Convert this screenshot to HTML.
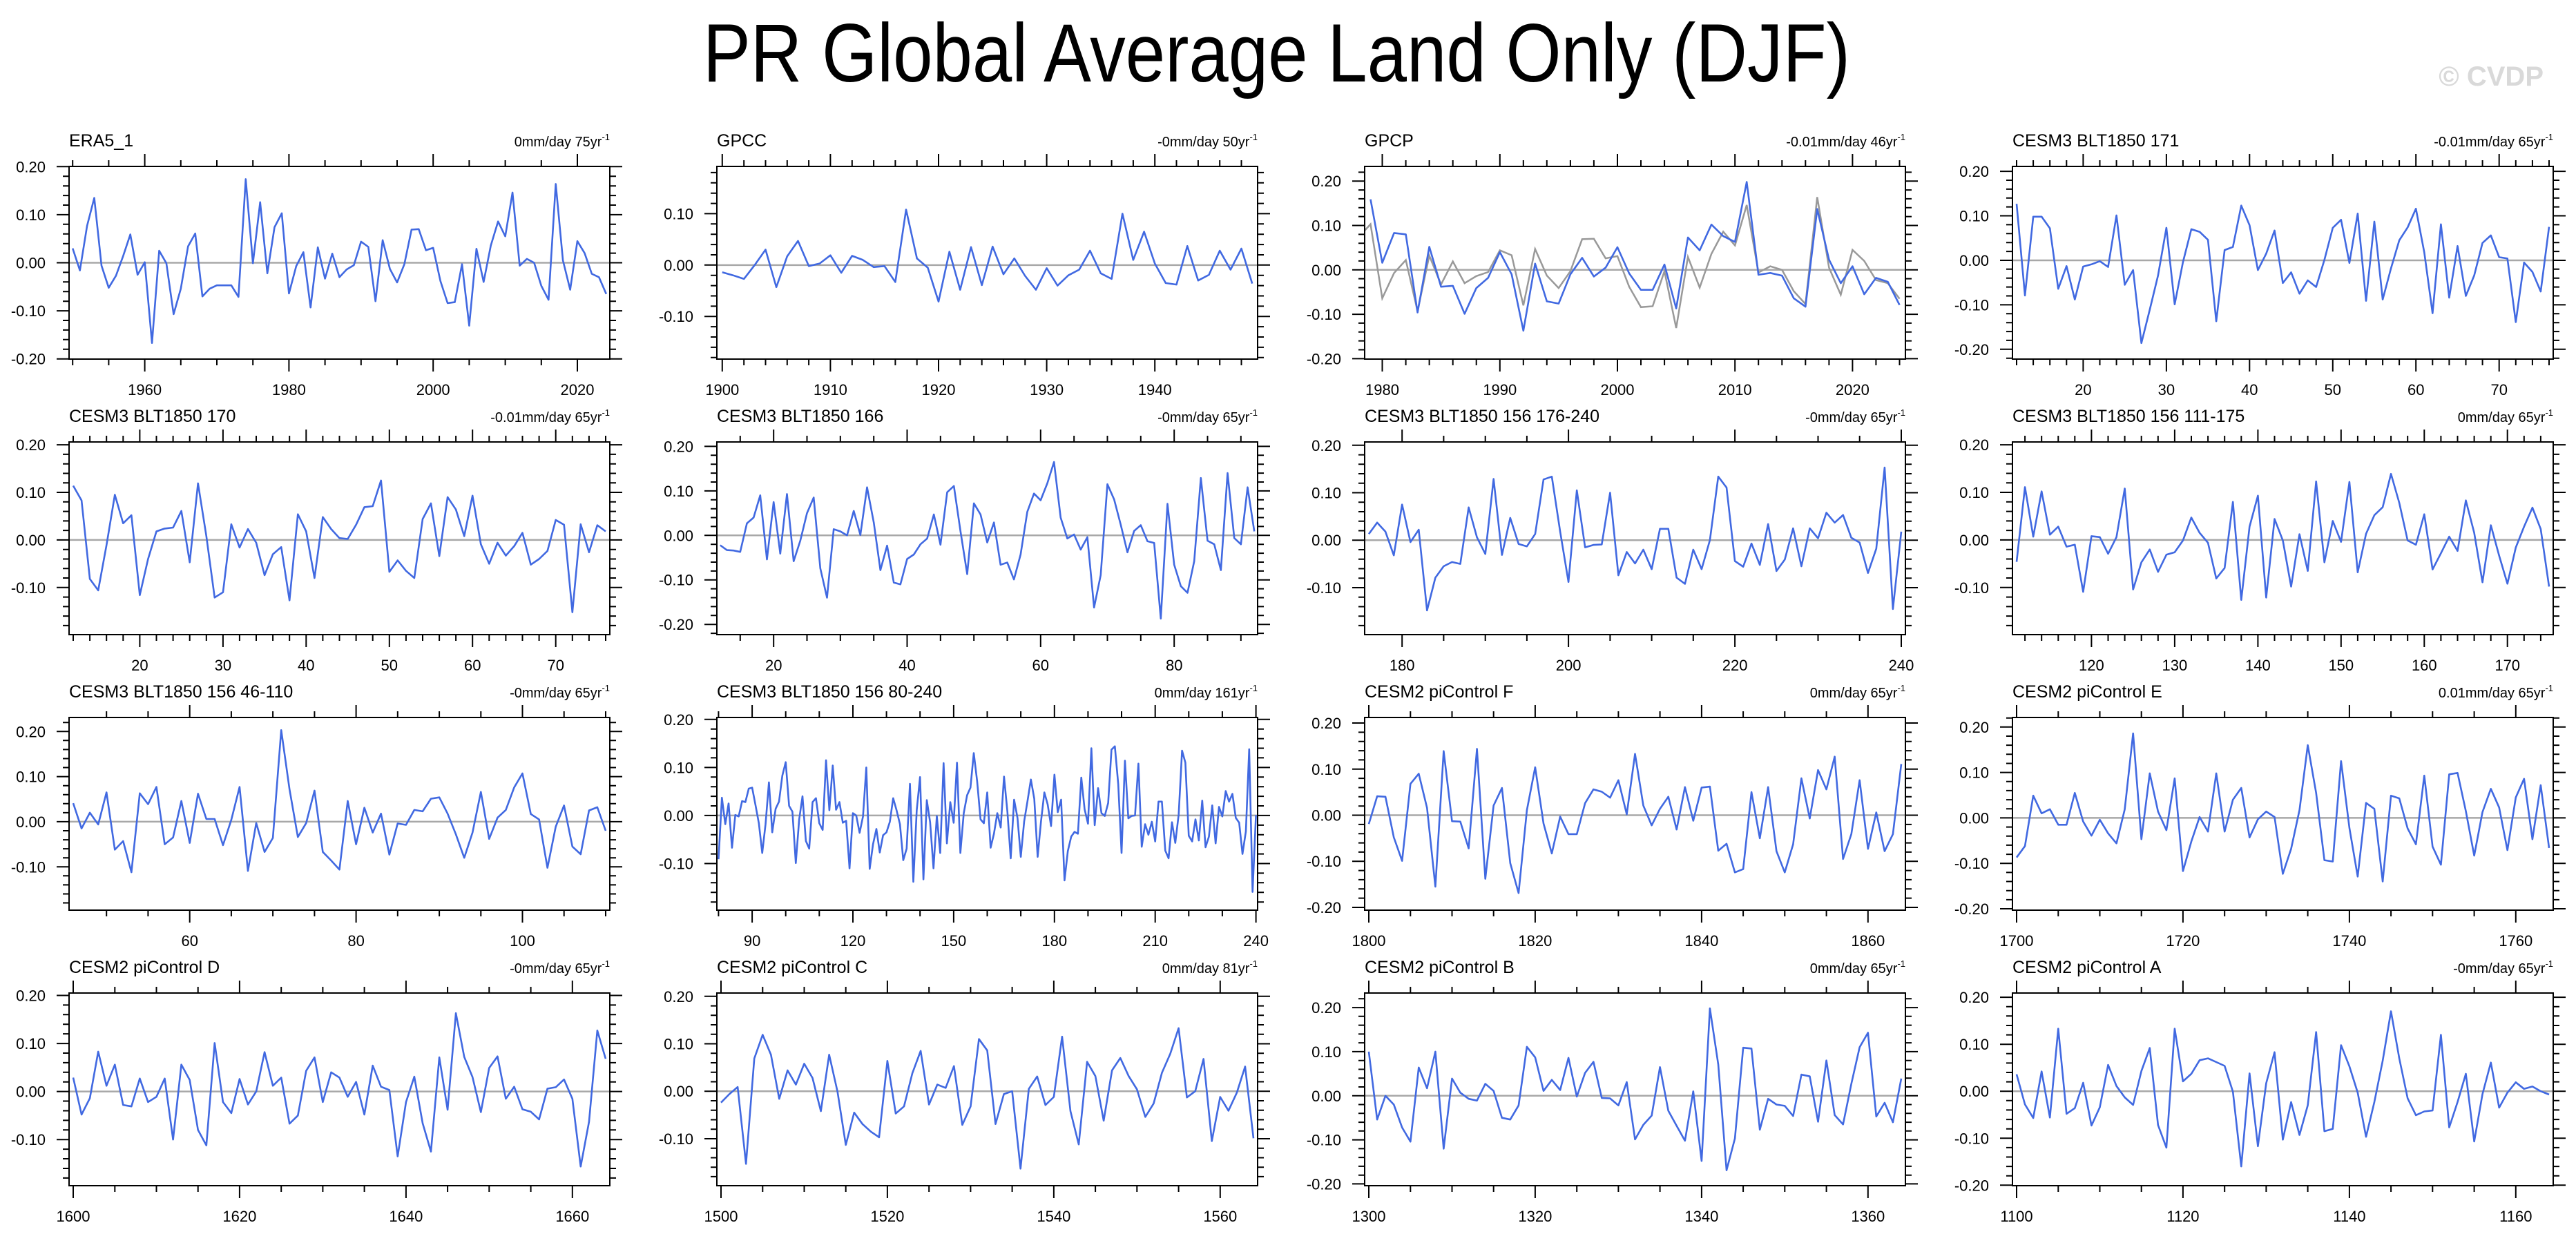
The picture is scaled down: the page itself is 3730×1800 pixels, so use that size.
<!DOCTYPE html>
<html>
<head>
<meta charset="utf-8">
<style>
html,body{margin:0;padding:0;background:#fff;}
svg{display:block;font-family:"Liberation Sans",Arial,sans-serif;}
</style>
</head>
<body>
<svg id="fig" width="3730" height="1800" viewBox="0 0 3730 1800" xmlns="http://www.w3.org/2000/svg">
  <rect x="0" y="0" width="3730" height="1800" fill="#fff"/>
  <text x="1018" y="118" font-size="120" textLength="1661" lengthAdjust="spacingAndGlyphs" fill="#000">PR Global Average Land Only (DJF)</text>
  <text x="3683" y="124" font-size="40" font-weight="bold" text-anchor="end" fill="#d9d9d9">© CVDP</text>
  <g id="panels"></g>
</svg>
<script>
// ---- data (one value per year, starting at the given first year) ----
const era5Start = 1950;
const era5Values = [0.030,-0.016,0.077,0.135,-0.006,-0.052,-0.027,0.014,0.059,-0.025,0.001,-0.167,0.025,-0.001,-0.107,-0.054,0.034,0.061,-0.070,-0.054,-0.047,-0.047,-0.047,-0.071,0.174,-0.001,0.126,-0.022,0.074,0.103,-0.064,-0.007,0.022,-0.093,0.032,-0.033,0.019,-0.030,-0.014,-0.005,0.044,0.033,-0.080,0.047,-0.013,-0.041,-0.003,0.069,0.070,0.026,0.031,-0.038,-0.084,-0.082,-0.003,-0.131,0.029,-0.040,0.036,0.086,0.055,0.146,-0.006,0.008,0.000,-0.048,-0.077,0.164,0.005,-0.056,0.045,0.020,-0.023,-0.030,-0.065];
const gpccStart = 1900;
const gpccValues = [-0.014,-0.020,-0.027,0.000,0.030,-0.043,0.017,0.047,-0.002,0.003,0.019,-0.015,0.018,0.010,-0.004,-0.002,-0.033,0.108,0.013,-0.005,-0.071,0.026,-0.048,0.035,-0.039,0.036,-0.018,0.013,-0.021,-0.048,-0.006,-0.040,-0.020,-0.009,0.028,-0.016,-0.027,0.100,0.010,0.065,0.003,-0.035,-0.038,0.037,-0.030,-0.019,0.028,-0.009,0.032,-0.036];
const gpcpStart = 1979;
const gpcpValues = [0.159,0.016,0.083,0.080,-0.096,0.052,-0.038,-0.036,-0.099,-0.041,-0.018,0.040,-0.010,-0.137,0.014,-0.071,-0.076,-0.010,0.027,-0.015,0.005,0.051,-0.008,-0.045,-0.045,0.012,-0.087,0.073,0.044,0.102,0.076,0.063,0.198,-0.011,-0.007,-0.013,-0.064,-0.083,0.137,0.023,-0.030,0.008,-0.055,-0.018,-0.027,-0.079];
const b171Start = 12;
const b171Values = [0.127,-0.079,0.098,0.098,0.072,-0.064,-0.013,-0.088,-0.014,-0.009,-0.002,-0.015,0.101,-0.055,-0.022,-0.186,-0.111,-0.034,0.073,-0.099,-0.004,0.070,0.064,0.046,-0.137,0.023,0.030,0.123,0.079,-0.022,0.015,0.067,-0.051,-0.027,-0.075,-0.045,-0.060,0.001,0.073,0.091,-0.006,0.105,-0.091,0.087,-0.088,-0.018,0.045,0.074,0.116,0.018,-0.119,0.081,-0.084,0.032,-0.080,-0.034,0.039,0.056,0.007,0.004,-0.139,-0.005,-0.026,-0.070,0.075];
const b170Start = 12;
const b170Values = [0.114,0.083,-0.082,-0.106,-0.011,0.095,0.035,0.052,-0.116,-0.040,0.018,0.024,0.026,0.061,-0.047,0.119,0.008,-0.121,-0.110,0.033,-0.016,0.023,-0.006,-0.074,-0.030,-0.015,-0.127,0.054,0.018,-0.080,0.048,0.023,0.004,0.002,0.032,0.069,0.071,0.125,-0.067,-0.043,-0.065,-0.080,0.044,0.077,-0.034,0.090,0.064,0.008,0.093,-0.009,-0.050,-0.006,-0.033,-0.013,0.015,-0.052,-0.040,-0.023,0.042,0.032,-0.152,0.033,-0.026,0.031,0.018];
const b166Start = 12;
const b166Values = [-0.022,-0.033,-0.034,-0.037,0.027,0.040,0.090,-0.054,0.075,-0.041,0.093,-0.058,-0.012,0.050,0.085,-0.074,-0.140,0.014,0.009,0.000,0.055,0.001,0.108,0.029,-0.078,-0.023,-0.106,-0.110,-0.053,-0.043,-0.020,-0.007,0.047,-0.021,0.097,0.111,0.009,-0.087,0.072,0.047,-0.016,0.029,-0.066,-0.061,-0.099,-0.043,0.053,0.094,0.079,0.117,0.165,0.040,-0.007,0.002,-0.032,-0.004,-0.162,-0.089,0.115,0.081,0.024,-0.038,0.010,0.023,-0.013,-0.017,-0.187,0.071,-0.066,-0.114,-0.129,-0.058,0.129,-0.012,-0.020,-0.078,0.140,-0.006,-0.020,0.108,0.009];
const b156aStart = 176;
const b156aValues = [0.013,0.037,0.018,-0.032,0.075,-0.004,0.022,-0.148,-0.079,-0.055,-0.046,-0.050,0.069,0.006,-0.029,0.129,-0.031,0.047,-0.008,-0.013,0.013,0.128,0.134,0.018,-0.088,0.105,-0.015,-0.010,-0.009,0.100,-0.074,-0.025,-0.049,-0.020,-0.061,0.024,0.024,-0.079,-0.092,-0.020,-0.061,0.000,0.134,0.111,-0.044,-0.056,-0.007,-0.052,0.034,-0.065,-0.041,0.025,-0.055,0.025,0.004,0.058,0.037,0.053,0.005,-0.005,-0.069,-0.018,0.153,-0.145,0.018];
const b156bStart = 111;
const b156bValues = [-0.046,0.111,0.007,0.102,0.011,0.028,-0.014,-0.010,-0.109,0.008,0.006,-0.029,0.006,0.108,-0.104,-0.047,-0.020,-0.067,-0.031,-0.026,-0.001,0.047,0.015,-0.006,-0.081,-0.059,0.080,-0.126,0.028,0.093,-0.121,0.044,-0.001,-0.098,0.012,-0.065,0.123,-0.047,0.040,-0.004,0.122,-0.068,0.013,0.052,0.069,0.139,0.078,-0.001,-0.010,0.054,-0.062,-0.028,0.007,-0.023,0.083,0.015,-0.089,0.031,-0.033,-0.092,-0.016,0.028,0.068,0.023,-0.098];
const b156cStart = 46;
const b156cValues = [0.041,-0.015,0.020,-0.006,0.065,-0.062,-0.043,-0.112,0.063,0.039,0.077,-0.050,-0.035,0.046,-0.047,0.062,0.006,0.006,-0.052,0.004,0.077,-0.109,-0.003,-0.067,-0.036,0.203,0.072,-0.034,-0.003,0.069,-0.067,-0.086,-0.106,0.046,-0.050,0.031,-0.024,0.018,-0.073,-0.004,-0.007,0.026,0.023,0.051,0.054,0.018,-0.028,-0.080,-0.024,0.066,-0.038,0.009,0.026,0.076,0.107,0.017,0.005,-0.102,-0.011,0.036,-0.055,-0.072,0.025,0.032,-0.020];
const b156dStart = 80;
const b156dValues = [-0.091,0.037,-0.018,0.025,-0.067,0.001,-0.002,0.030,0.028,0.056,0.058,0.022,-0.016,-0.078,-0.018,0.069,-0.035,0.014,0.029,0.083,0.111,0.020,0.008,-0.099,-0.008,0.040,-0.053,-0.069,0.028,0.036,-0.016,-0.030,0.115,0.011,0.104,0.012,0.028,-0.015,-0.011,-0.110,0.005,0.000,-0.036,-0.002,0.100,-0.111,-0.060,-0.028,-0.077,-0.041,-0.035,-0.013,0.036,0.011,-0.018,-0.093,-0.069,0.066,-0.138,0.011,0.080,-0.133,0.032,-0.014,-0.110,-0.001,-0.078,0.109,-0.058,0.028,-0.015,0.110,-0.078,0.005,0.042,0.058,0.130,0.071,-0.008,-0.016,0.048,-0.067,-0.038,0.005,-0.025,0.081,0.008,-0.089,0.033,-0.005,-0.086,-0.012,0.031,0.075,0.035,-0.086,-0.013,0.048,0.023,-0.022,0.085,0.007,0.033,-0.135,-0.074,-0.044,-0.034,-0.038,0.079,0.013,-0.017,0.140,-0.020,0.057,0.005,-0.001,0.026,0.137,0.144,0.065,-0.078,0.114,-0.006,-0.001,0.000,0.108,-0.065,-0.018,-0.040,-0.013,-0.054,0.029,0.029,-0.073,-0.089,-0.014,-0.057,0.002,0.135,0.110,-0.042,-0.054,-0.008,-0.052,0.031,-0.066,-0.044,0.021,-0.058,0.018,-0.002,0.051,0.029,0.045,-0.005,-0.015,-0.080,-0.033,0.138,-0.159,0.001];
const pcFStart = 1800;
const pcFValues = [-0.019,0.041,0.040,-0.048,-0.099,0.068,0.090,0.016,-0.155,0.139,-0.013,-0.014,-0.072,0.144,-0.138,0.021,0.059,-0.104,-0.169,0.011,0.104,-0.018,-0.083,-0.003,-0.041,-0.041,0.026,0.056,0.051,0.038,0.076,0.002,0.133,0.021,-0.022,0.014,0.040,-0.031,0.061,-0.012,0.060,0.062,-0.077,-0.062,-0.124,-0.117,0.050,-0.050,0.061,-0.078,-0.124,-0.063,0.080,-0.007,0.098,0.056,0.127,-0.095,-0.041,0.076,-0.073,0.006,-0.078,-0.041,0.111];
const pcEStart = 1700;
const pcEValues = [-0.087,-0.062,0.049,0.010,0.019,-0.015,-0.015,0.055,-0.008,-0.039,-0.004,-0.034,-0.056,0.019,0.186,-0.047,0.098,0.014,-0.027,0.087,-0.117,-0.052,0.002,-0.030,0.098,-0.030,0.040,0.066,-0.043,-0.003,0.014,0.002,-0.123,-0.068,0.017,0.160,0.055,-0.093,-0.096,0.125,-0.022,-0.129,0.033,0.020,-0.140,0.049,0.043,-0.023,-0.058,0.093,-0.063,-0.103,0.096,0.099,0.015,-0.083,0.013,0.064,0.023,-0.071,0.045,0.086,-0.047,0.072,-0.066];
const pcDStart = 1600;
const pcDValues = [0.029,-0.048,-0.014,0.083,0.012,0.056,-0.028,-0.031,0.027,-0.022,-0.011,0.027,-0.100,0.056,0.024,-0.080,-0.112,0.101,-0.022,-0.045,0.026,-0.027,0.000,0.082,0.012,0.029,-0.067,-0.050,0.043,0.071,-0.022,0.040,0.029,-0.011,0.020,-0.048,0.054,0.010,0.003,-0.135,-0.022,0.031,-0.066,-0.125,0.071,-0.038,0.163,0.072,0.030,-0.043,0.049,0.073,-0.015,0.010,-0.037,-0.042,-0.058,0.006,0.009,0.025,-0.015,-0.156,-0.063,0.127,0.068];
const pcCStart = 1500;
const pcCValues = [-0.024,-0.006,0.009,-0.153,0.069,0.119,0.077,-0.016,0.044,0.014,0.058,0.028,-0.042,0.077,-0.001,-0.113,-0.045,-0.069,-0.085,-0.097,0.064,-0.047,-0.032,0.038,0.085,-0.028,0.014,0.007,0.053,-0.071,-0.032,0.110,0.086,-0.069,-0.006,0.000,-0.163,0.005,0.031,-0.029,-0.012,0.115,-0.042,-0.112,0.062,0.032,-0.062,0.044,0.070,0.032,0.004,-0.054,-0.026,0.039,0.079,0.133,-0.013,0.000,0.068,-0.105,-0.012,-0.041,-0.003,0.052,-0.099];
const pcBStart = 1300;
const pcBValues = [0.100,-0.054,0.000,-0.020,-0.072,-0.104,0.064,0.017,0.100,-0.120,0.039,0.007,-0.007,-0.011,0.027,0.011,-0.050,-0.054,-0.022,0.111,0.087,0.011,0.036,0.013,0.086,-0.002,0.052,0.077,-0.005,-0.006,-0.022,0.031,-0.099,-0.066,-0.045,0.065,-0.034,-0.068,-0.102,0.010,-0.148,0.198,0.071,-0.169,-0.097,0.109,0.107,-0.077,-0.007,-0.020,-0.023,-0.046,0.048,0.044,-0.059,0.080,-0.044,-0.065,0.027,0.110,0.143,-0.047,-0.016,-0.060,0.039];
const pcAStart = 1100;
const pcAValues = [0.036,-0.028,-0.057,0.042,-0.056,0.133,-0.048,-0.036,0.018,-0.073,-0.034,0.056,0.011,-0.013,-0.029,0.043,0.092,-0.072,-0.120,0.133,0.021,0.037,0.066,0.070,0.062,0.054,-0.001,-0.160,0.038,-0.117,0.017,0.083,-0.103,-0.023,-0.093,-0.030,0.126,-0.085,-0.080,0.098,0.053,-0.003,-0.097,-0.023,0.065,0.170,0.070,-0.015,-0.051,-0.043,-0.041,0.120,-0.077,-0.023,0.037,-0.107,-0.006,0.061,-0.035,-0.003,0.019,0.005,0.010,0.000,-0.007];

const panelTitles = ["ERA5_1","GPCC","GPCP","CESM3 BLT1850 171","CESM3 BLT1850 170","CESM3 BLT1850 166","CESM3 BLT1850 156 176-240","CESM3 BLT1850 156 111-175","CESM3 BLT1850 156 46-110","CESM3 BLT1850 156 80-240","CESM2 piControl F","CESM2 piControl E","CESM2 piControl D","CESM2 piControl C","CESM2 piControl B","CESM2 piControl A"];
const trendLabels = ["0mm/day 75yr","-0mm/day 50yr","-0.01mm/day 46yr","-0.01mm/day 65yr","-0.01mm/day 65yr","-0mm/day 65yr","-0mm/day 65yr","0mm/day 65yr","-0mm/day 65yr","0mm/day 161yr","0mm/day 65yr","0.01mm/day 65yr","-0mm/day 65yr","0mm/day 81yr","0mm/day 65yr","-0mm/day 65yr"];
const seriesStarts = [era5Start,gpccStart,gpcpStart,b171Start,b170Start,b166Start,b156aStart,b156bStart,b156cStart,b156dStart,pcFStart,pcEStart,pcDStart,pcCStart,pcBStart,pcAStart];
const seriesValues = [era5Values,gpccValues,gpcpValues,b171Values,b170Values,b166Values,b156aValues,b156bValues,b156cValues,b156dValues,pcFValues,pcEValues,pcDValues,pcCValues,pcBValues,pcAValues];
const yMins = [-0.2005,-0.183,-0.201,-0.222,-0.199,-0.223,-0.199,-0.199,-0.196,-0.197,-0.206,-0.203,-0.196,-0.199,-0.204,-0.201];
const yMaxs = [0.2005,0.192,0.233,0.211,0.206,0.210,0.207,0.206,0.231,0.204,0.212,0.221,0.205,0.207,0.233,0.209];
const xMajorSteps = [20,10,10,10,10,20,20,10,20,30,20,20,20,20,20,20];
const xMinorSteps = [5,2,2,2,2,5,5,2,5,10,5,5,5,5,5,5];

// ---- layout ----
const NS = "http://www.w3.org/2000/svg";
const colLefts = [100,1038,1976,2914];
const rowTops = [241,640,1039,1438];
const PW = 783, PH = 279;
const root = document.getElementById('panels');

function mk(tag, attrs){
  const e = document.createElementNS(NS, tag);
  for (const k in attrs) e.setAttribute(k, attrs[k]);
  return e;
}

for (let p = 0; p < 16; p++) {
  const L = colLefts[p % 4], T = rowTops[Math.floor(p / 4)];
  const vals = seriesValues[p], start = seriesStarts[p];
  const x0 = start - 0.5, x1 = start + vals.length - 0.5;
  const ymin = yMins[p], ymax = yMaxs[p];
  const xs = yr => L + (yr - x0) / (x1 - x0) * PW;
  const ys = v => T + (ymax - v) / (ymax - ymin) * PH;

  const g = mk('g', {});
  
  
  root.appendChild(g);

  const clip = mk('clipPath', {id: 'clip' + p});
  clip.appendChild(mk('rect', {x: L, y: T, width: PW, height: PH}));
  g.appendChild(clip);

  // zero line
  const zl = mk('line', {x1: L, x2: L + PW, y1: ys(0), y2: ys(0), stroke: '#a8a8a8', 'stroke-width': 2.5});
  
  
  g.appendChild(zl);

  // gray reference (ERA5) on GPCP panel
  if (p === 2) {
    let pts = '';
    era5Values.forEach((v, i) => { pts += xs(era5Start + i).toFixed(1) + ',' + ys(v).toFixed(1) + ' '; });
    const ref = mk('polyline', {points: pts, fill: 'none', stroke: '#999999', 'stroke-width': 2.5, 'clip-path': 'url(#clip' + p + ')'});
    
    
    g.appendChild(ref);
  }

  // series line
  let pts = '';
  vals.forEach((v, i) => { pts += xs(start + i).toFixed(1) + ',' + ys(v).toFixed(1) + ' '; });
  const line = mk('polyline', {points: pts, fill: 'none', stroke: '#4169e1', 'stroke-width': 2.6, 'stroke-linejoin': 'round', 'clip-path': 'url(#clip' + p + ')'});
  
  
  g.appendChild(line);

  // frame
  const fr = mk('rect', {x: L, y: T, width: PW, height: PH, fill: 'none', stroke: '#000', 'stroke-width': 2});
  
  
  g.appendChild(fr);

  // y ticks
  let dY = '';
  const kmin = Math.ceil(ymin / 0.02 - 1e-6), kmax = Math.floor(ymax / 0.02 + 1e-6);
  for (let k = kmin; k <= kmax; k++) {
    const yy = ys(k * 0.02).toFixed(1);
    const major = (k % 5 === 0);
    const len = major ? 18 : 9;
    dY += 'M' + L + ' ' + yy + 'h' + (-len) + 'M' + (L + PW) + ' ' + yy + 'h' + len;
    if (major) {
      const v = k / 50;
      const lab = mk('text', {x: L - 34, y: +yy + 8, 'font-size': 22, 'text-anchor': 'end', fill: '#000'});
      lab.textContent = (v === 0 ? 0 : v).toFixed(2);
      
      
      g.appendChild(lab);
    }
  }
  const yt = mk('path', {d: dY, stroke: '#000', 'stroke-width': 2, fill: 'none'});
  
  
  g.appendChild(yt);

  // x ticks
  let dX = '';
  const mn = xMinorSteps[p], mj = xMajorSteps[p];
  for (let yr = Math.ceil(x0 / mn) * mn; yr <= x1; yr += mn) {
    const xx = xs(yr).toFixed(1);
    const major = (yr % mj === 0);
    const len = major ? 18 : 9;
    dX += 'M' + xx + ' ' + (T + PH) + 'v' + len + 'M' + xx + ' ' + T + 'v' + (-len);
    if (major) {
      const lab = mk('text', {x: xx, y: T + PH + 52, 'font-size': 22, 'text-anchor': 'middle', fill: '#000'});
      lab.textContent = String(yr);
      
      
      g.appendChild(lab);
    }
  }
  const xt = mk('path', {d: dX, stroke: '#000', 'stroke-width': 2, fill: 'none'});
  
  
  g.appendChild(xt);

  // titles
  const tl = mk('text', {x: L, y: T - 29, 'font-size': 25, fill: '#000'});
  tl.textContent = panelTitles[p];
  
  
  g.appendChild(tl);

  const tr = mk('text', {x: L + PW, y: T - 29, 'font-size': 20, 'text-anchor': 'end', fill: '#000'});
  
  
  const t1 = mk('tspan', {});
  t1.textContent = trendLabels[p];
  const t2 = mk('tspan', {'font-size': 13, dy: -9});
  t2.textContent = '-1';
  tr.appendChild(t1);
  tr.appendChild(t2);
  g.appendChild(tr);
}
</script>
</body>
</html>
